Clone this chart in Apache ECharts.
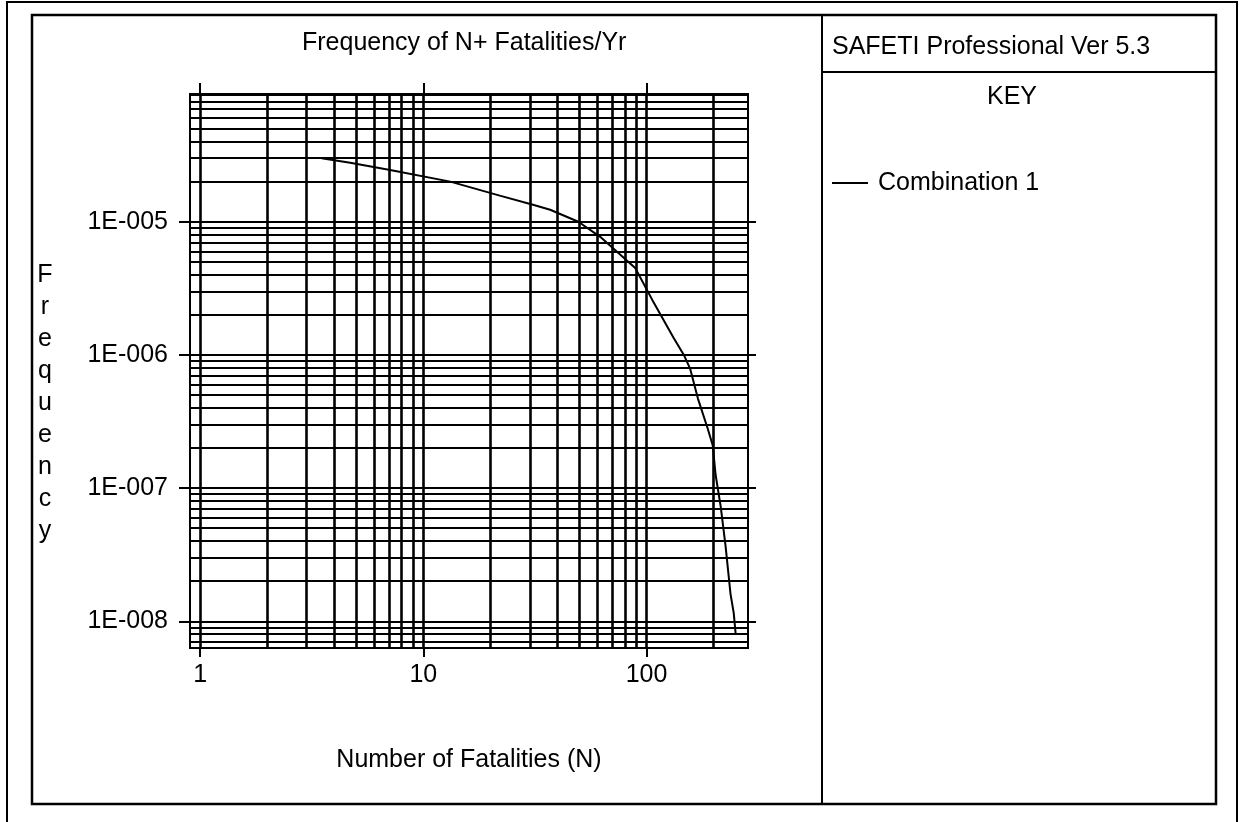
<!DOCTYPE html>
<html>
<head>
<meta charset="utf-8">
<title>F-N Curve</title>
<script src="https://cdn.jsdelivr.net/npm/echarts@6/dist/echarts.min.js"></script>
<style>
  html, body { margin: 0; padding: 0; background: #fff; }
  #chart { width: 1240px; height: 822px; }
</style>
</head>
<body>
<div id="chart"></div>
<script>
// F-N curve: number of fatalities N vs. frequency of N or more fatalities per year
const fatalitiesN = [3.5, 4.7, 7.1, 13.2, 22, 31, 37, 49.5, 62, 89, 106, 132, 147, 157, 170, 188, 198, 204, 215, 226, 238, 246, 251];
const frequencyPerYr = [3.0e-5, 2.77e-5, 2.45e-5, 2.0e-5, 1.57e-5, 1.34e-5, 1.23e-5, 1.0e-5, 7.7e-6, 4.5e-6, 2.6e-6, 1.35e-6, 1.0e-6, 7.85e-7, 4.7e-7, 2.8e-7, 2.1e-7, 1.26e-7, 7.3e-8, 3.7e-8, 1.6e-8, 1.15e-8, 8.0e-9];

// axis ranges
const xRange = [0.9, 285];
const yRange = [6.3e-9, 9.1e-5];

// labelled decades
const xTickValues = [1, 10, 100];
const xTickLabels = ['1', '10', '100'];
const yTickValues = [1e-8, 1e-7, 1e-6, 1e-5];
const yTickLabels = ['1E-008', '1E-007', '1E-006', '1E-005'];

// log grid lines (1..9 within each decade)
const xGridValues = [1, 2, 3, 4, 5, 6, 7, 8, 9, 10, 20, 30, 40, 50, 60, 70, 80, 90, 100, 200];
const yGridDecades = [1e-9, 1e-8, 1e-7, 1e-6, 1e-5];
const gridMultipliers = [1, 2, 3, 4, 5, 6, 7, 8, 9];

const seriesName = 'Combination 1';
const FONT = '"Liberation Sans", Arial, sans-serif';
const FS = 25;

const yGridValues = [];
yGridDecades.forEach(d => gridMultipliers.forEach(m => {
  const v = m * d;
  if (v >= yRange[0] && v <= yRange[1]) yGridValues.push(v);
}));

function labelFor(values, labels) {
  return function (v) {
    for (let i = 0; i < values.length; i++) {
      if (Math.abs(Math.log10(v) - Math.log10(values[i])) < 1e-6) return labels[i];
    }
    return '';
  };
}

const txt = { color: '#000', fontFamily: FONT, fontSize: FS, fontWeight: 'normal' };
const tickLine = { color: '#000', width: 2 };

const chart = echarts.init(document.getElementById('chart'), null, { renderer: 'canvas' });

chart.setOption({
  animation: false,
  backgroundColor: '#fff',
  textStyle: { fontFamily: FONT },
  title: [
    { text: 'Frequency of N+ Fatalities/Yr', left: 302, top: 28, padding: 0,
      textStyle: Object.assign({ lineHeight: 30 }, txt) },
    { text: 'SAFETI Professional Ver 5.3', left: 832, top: 32, padding: 0,
      textStyle: Object.assign({ lineHeight: 30 }, txt) },
    { text: 'KEY', left: 987, top: 82, padding: 0,
      textStyle: Object.assign({ lineHeight: 30 }, txt) }
  ],
  legend: {
    show: true,
    orient: 'vertical',
    left: 832,
    top: 168,
    padding: 0,
    icon: 'rect',
    itemWidth: 36,
    itemHeight: 2,
    itemStyle: { color: '#000' },
    data: [seriesName],
    textStyle: Object.assign({ padding: [0, 0, 0, 5], lineHeight: 30 }, txt)
  },
  grid: {
    left: 190, top: 94, width: 558, height: 554,
    show: true, borderColor: '#000', borderWidth: 2, backgroundColor: '#fff'
  },
  xAxis: [
    {
      type: 'log', position: 'bottom', min: xRange[0], max: xRange[1],
      name: 'Number of Fatalities (N)', nameLocation: 'middle', nameGap: 112,
      nameTextStyle: Object.assign({ verticalAlign: 'middle' }, txt),
      axisLine: { show: false },
      splitLine: { show: false },
      axisTick: { show: true, inside: false, length: 9, customValues: xTickValues, lineStyle: tickLine },
      axisLabel: Object.assign({ show: true, margin: 12, lineHeight: 30, customValues: xTickValues,
        formatter: labelFor(xTickValues, xTickLabels) }, txt)
    },
    {
      type: 'log', position: 'top', min: xRange[0], max: xRange[1],
      axisLine: { show: false },
      splitLine: { show: false },
      axisTick: { show: true, inside: false, length: 11, customValues: xTickValues, lineStyle: tickLine },
      axisLabel: { show: false }
    }
  ],
  yAxis: [
    {
      type: 'log', position: 'left', min: yRange[0], max: yRange[1],
      // stacked letters, two blank lines push the word below the axis centre
      name: '\n\nF\nr\ne\nq\nu\ne\nn\nc\ny', nameLocation: 'middle', nameGap: 145, nameRotate: 0,
      nameTextStyle: Object.assign({ align: 'center', verticalAlign: 'middle', lineHeight: 32 }, txt),
      axisLine: { show: false },
      splitLine: { show: false },
      axisTick: { show: true, inside: false, length: 11, customValues: yTickValues, lineStyle: tickLine },
      axisLabel: Object.assign({ show: true, margin: 22, customValues: yTickValues,
        formatter: labelFor(yTickValues, yTickLabels) }, txt)
    },
    {
      type: 'log', position: 'right', min: yRange[0], max: yRange[1],
      axisLine: { show: false },
      splitLine: { show: false },
      axisTick: { show: true, inside: false, length: 8, customValues: yTickValues, lineStyle: tickLine },
      axisLabel: { show: false }
    }
  ],
  series: [
    {
      name: seriesName,
      type: 'line',
      xAxisIndex: 0,
      yAxisIndex: 0,
      data: fatalitiesN.map((n, i) => [n, frequencyPerYr[i]]),
      symbol: 'none',
      lineStyle: { color: '#000', width: 2 },
      itemStyle: { color: '#000' },
      z: 5,
      markLine: {
        silent: true,
        precision: 20,
        symbol: ['none', 'none'],
        label: { show: false },
        emphasis: { disabled: true },
        lineStyle: { color: '#000', width: 2, type: 'solid' },
        data: xGridValues.map(v => ({ xAxis: v, lineStyle: { width: 2.6 } }))
          .concat(yGridValues.map(v => ({ yAxis: v })))
      }
    }
  ],
  graphic: [
    // outer page border
    { type: 'rect', silent: true, shape: { x: 7, y: 2, width: 1230, height: 830 },
      style: { fill: null, stroke: '#000', lineWidth: 2 } },
    // report frame
    { type: 'rect', silent: true, shape: { x: 32, y: 15, width: 1184, height: 789 },
      style: { fill: null, stroke: '#000', lineWidth: 2.5 } },
    // divider between plot and key panel
    { type: 'line', silent: true, shape: { x1: 822, y1: 15, x2: 822, y2: 804 },
      style: { stroke: '#000', lineWidth: 2 } },
    // header rule in key panel
    { type: 'line', silent: true, shape: { x1: 822, y1: 72, x2: 1216, y2: 72 },
      style: { stroke: '#000', lineWidth: 2 } }
  ]
});
</script>
</body>
</html>
